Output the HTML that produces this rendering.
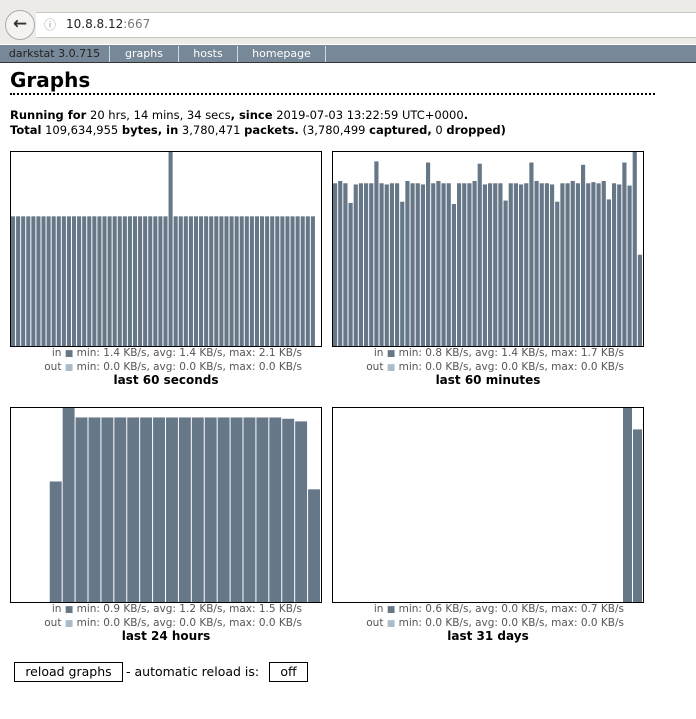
<!DOCTYPE html>
<html><head><meta charset="utf-8">
<style>
body{margin:0;width:696px;height:719px;overflow:hidden;background:#fff;font-family:"DejaVu Sans","Liberation Sans",sans-serif;position:relative}
.chrome{position:absolute;left:0;top:0;width:696px;height:44px;background:#ecebe8}
.url{position:absolute;left:36px;top:12px;width:670px;height:24px;background:#fff;border-top:1px solid #c8c6c2;border-bottom:1px solid #c8c6c2}
.back{position:absolute;left:5px;top:10px;width:28px;height:28px;border-radius:50%;border:1px solid #aaa;background:#f4f3f1;font-size:17px;font-weight:bold;line-height:27px;text-align:center;color:#333}
.nav{position:absolute;left:0;top:45px;width:696px;height:17px;background:#778899;border-bottom:1px solid #333}
.nav span{position:absolute;top:1px;font-size:11px;color:#fff;border-right:1px solid #cdd;height:16px;line-height:15px;text-align:center}
h1{position:absolute;left:10px;top:68px;margin:0;font-size:20px;font-weight:bold}
.dots{position:absolute;left:10px;top:93px;width:645px;border-top:2px dotted #000}
.info{position:absolute;left:10px;top:108px;font-size:11.5px;line-height:15px;white-space:nowrap}
.lg{position:absolute;font-size:10.5px;color:#555;text-align:right;line-height:12.5px;white-space:nowrap}
.sq{font-size:9px}
.ttl{position:absolute;font-size:12px;font-weight:bold;text-align:center;width:312px}
.btn{position:absolute;border:1px solid #000;font-size:12.5px;height:18px;line-height:18px;text-align:center;background:#fff}
</style></head><body>
<div class="chrome"></div>
<div class="url"><span style="position:absolute;left:8px;top:3px;color:#999;font-size:12px">ⓘ</span><span style="position:absolute;left:30px;top:4px;font-size:12px;color:#222">10.8.8.12<span style="color:#777">:667</span></span></div>
<div class="back">←</div>
<div class="nav">
<span style="left:0;width:109px;color:#222">darkstat 3.0.715</span>
<span style="left:110px;width:68px">graphs</span>
<span style="left:179px;width:58px">hosts</span>
<span style="left:238px;width:87px">homepage</span>
</div>
<h1>Graphs</h1>
<div class="dots"></div>
<div class="info"><b>Running for</b> 20 hrs, 14 mins, 34 secs<b>, since</b> 2019-07-03 13:22:59 UTC+0000<b>.</b><br><b>Total</b> 109,634,955 <b>bytes, in</b> 3,780,471 <b>packets.</b> (3,780,499 <b>captured,</b> 0 <b>dropped)</b></div>
<svg id="svg" width="696" height="719" style="position:absolute;left:0;top:0"></svg>

<div class="lg" style="left:10px;top:347px;width:292px">in <span class="sq" style="color:#667788">■</span> min: 1.4 KB/s, avg: 1.4 KB/s, max: 2.1 KB/s<br>out <span class="sq" style="color:#aabbcc">■</span> min: 0.0 KB/s, avg: 0.0 KB/s, max: 0.0 KB/s</div>
<div class="ttl" style="left:10px;top:373px">last 60 seconds</div>
<div class="lg" style="left:332px;top:347px;width:292px">in <span class="sq" style="color:#667788">■</span> min: 0.8 KB/s, avg: 1.4 KB/s, max: 1.7 KB/s<br>out <span class="sq" style="color:#aabbcc">■</span> min: 0.0 KB/s, avg: 0.0 KB/s, max: 0.0 KB/s</div>
<div class="ttl" style="left:332px;top:373px">last 60 minutes</div>
<div class="lg" style="left:10px;top:603px;width:292px">in <span class="sq" style="color:#667788">■</span> min: 0.9 KB/s, avg: 1.2 KB/s, max: 1.5 KB/s<br>out <span class="sq" style="color:#aabbcc">■</span> min: 0.0 KB/s, avg: 0.0 KB/s, max: 0.0 KB/s</div>
<div class="ttl" style="left:10px;top:629px">last 24 hours</div>
<div class="lg" style="left:332px;top:603px;width:292px">in <span class="sq" style="color:#667788">■</span> min: 0.6 KB/s, avg: 0.0 KB/s, max: 0.7 KB/s<br>out <span class="sq" style="color:#aabbcc">■</span> min: 0.0 KB/s, avg: 0.0 KB/s, max: 0.0 KB/s</div>
<div class="ttl" style="left:332px;top:629px">last 31 days</div>

<div class="btn" style="left:14px;top:662px;width:107px">reload graphs</div>
<div style="position:absolute;left:126px;top:664px;font-size:12.5px">- automatic reload is:</div>
<div class="btn" style="left:269px;top:662px;width:37px">off</div>

<script>
const secVals=[1.4,1.4,1.4,1.4,1.4,1.4,1.4,1.4,1.4,1.4,1.4,1.4,1.4,1.4,1.4,1.4,1.4,1.4,1.4,1.4,1.4,1.4,1.4,1.4,1.4,1.4,1.4,1.4,1.4,1.4,1.4,2.1,1.4,1.4,1.4,1.4,1.4,1.4,1.4,1.4,1.4,1.4,1.4,1.4,1.4,1.4,1.4,1.4,1.4,1.4,1.4,1.4,1.4,1.4,1.4,1.4,1.4,1.4,1.4,1.4,0];
const minVals=[1.42,1.44,1.42,1.25,1.41,1.42,1.42,1.42,1.61,1.42,1.41,1.42,1.42,1.26,1.44,1.42,1.42,1.41,1.6,1.42,1.44,1.42,1.42,1.24,1.42,1.42,1.42,1.44,1.59,1.41,1.42,1.42,1.42,1.27,1.42,1.42,1.41,1.42,1.6,1.44,1.42,1.42,1.41,1.26,1.42,1.42,1.44,1.42,1.58,1.42,1.43,1.42,1.44,1.28,1.42,1.41,1.6,1.4,1.7,0.8];
const hourVals=[0,0,0,0.93,1.5,1.42,1.42,1.42,1.42,1.42,1.42,1.42,1.42,1.42,1.42,1.42,1.42,1.42,1.42,1.42,1.42,1.41,1.39,0.87];
const dayVals=[0,0,0,0,0,0,0,0,0,0,0,0,0,0,0,0,0,0,0,0,0,0,0,0,0,0,0,0,0,0.7,0.62];
const charts=[
 {name:'chart-60s',vals:secVals,slots:61,max:2.1,x:10,y:151},
 {name:'chart-60m',vals:minVals,slots:60,max:1.7,x:332,y:151},
 {name:'chart-24h',vals:hourVals,slots:24,max:1.5,x:10,y:407},
 {name:'chart-31d',vals:dayVals,slots:31,max:0.7,x:332,y:407}];
const NS='http://www.w3.org/2000/svg',svg=document.getElementById('svg');
const W=312,H=196;
charts.forEach(c=>{
 const g=document.createElementNS(NS,'g');
 
 
 svg.appendChild(g);
 const bw=(W-2)/c.slots;
 const xs=i=>c.x+1+i*bw;
 const ys=v=>H*v/c.max;
 c.vals.forEach((v,i)=>{
  if(v<=0)return;
  const h=Math.min(ys(v),H);
  const r=document.createElementNS(NS,'rect');
  
  
  r.setAttribute('x',xs(i));r.setAttribute('width',Math.max(bw-1,1));
  r.setAttribute('y',c.y+H-h);r.setAttribute('height',h);
  r.setAttribute('fill','#667788');
  g.appendChild(r);
 });
 const b=document.createElementNS(NS,'rect');
 
 
 b.setAttribute('x',c.x+0.5);b.setAttribute('y',c.y+0.5);
 b.setAttribute('width',W-1);b.setAttribute('height',H-1);
 b.setAttribute('fill','none');b.setAttribute('stroke','#000');
 g.appendChild(b);
});
</script>
</body></html>
